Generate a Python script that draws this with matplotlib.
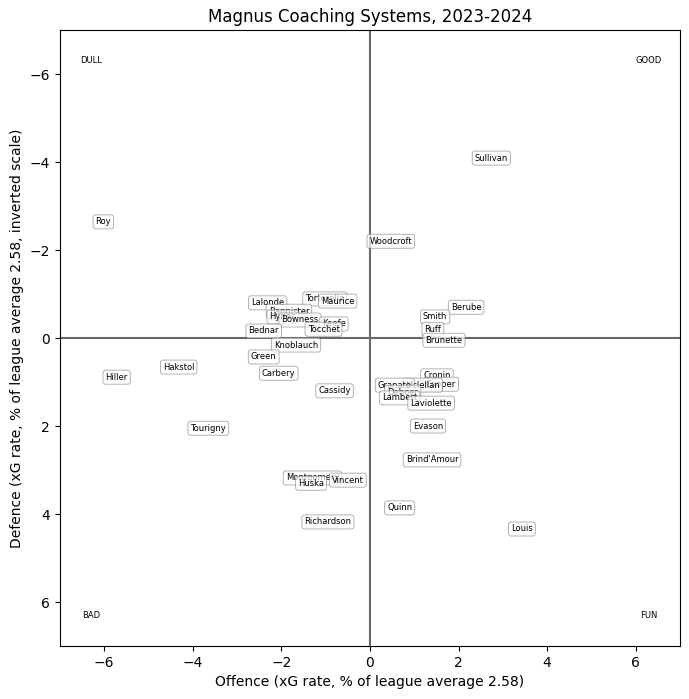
import matplotlib
matplotlib.use('Agg')
import matplotlib.pyplot as plt

# coaches and their xG rates (% of league average)
coaches = ['Sullivan', 'Roy', 'Woodcroft', 'Lalonde', 'Tortorella', 'Maurice',
           'Bannister', 'Hynes', 'Bowness', 'Keefe', 'Tocchet', 'Bednar',
           'Knoblauch', 'Green', 'Carbery', 'Cassidy', 'Hakstol', 'Hiller',
           'Tourigny', 'Berube', 'Smith', 'Ruff', 'Brunette', 'Cronin',
           'Cooper', 'Mclellan', 'Granato', 'Deboer', 'Lambert', 'Laviolette',
           'Evason', "Brind'Amour", 'Montgomery', 'Huska', 'Vincent',
           'Richardson', 'Quinn', 'Louis']
offence = [2.74, -6.02, 0.47, -2.31, -1.02, -0.73,
           -1.83, -1.97, -1.58, -0.82, -1.05, -2.40,
           -1.67, -2.40, -2.06, -0.80, -4.32, -5.72,
           -3.65, 2.17, 1.47, 1.42, 1.67, 1.51,
           1.60, 1.19, 0.56, 0.74, 0.67, 1.38,
           1.31, 1.40, -1.30, -1.33, -0.50,
           -0.95, 0.67, 3.43]
defence = [-4.09, -2.64, -2.20, -0.80, -0.89, -0.84,
           -0.61, -0.48, -0.41, -0.32, -0.20, -0.16,
           0.16, 0.43, 0.80, 1.20, 0.66, 0.89,
           2.05, -0.70, -0.48, -0.20, 0.05, 0.86,
           1.05, 1.07, 1.07, 1.23, 1.36, 1.48,
           2.00, 2.77, 3.18, 3.30, 3.23,
           4.18, 3.86, 4.34]

corner_text = ['DULL', 'GOOD', 'BAD', 'FUN']
corner_x = [-6.3, 6.3, -6.3, 6.3]
corner_y = [-6.3, -6.3, 6.3, 6.3]

fig = plt.figure(figsize=(6.89, 6.99), dpi=100)
ax = fig.add_axes([0.087, 0.0758, 0.9, 0.8812])

ax.axhline(0, color='dimgray', lw=1.5, zorder=1)
ax.axvline(0, color='dimgray', lw=1.5, zorder=1)

for name, x, y in zip(coaches, offence, defence):
    ax.text(x, y, name, fontsize=6, ha='center', va='center',
            bbox=dict(boxstyle='round,pad=0.3', fc='white', ec='gray', lw=0.6, alpha=0.7))

for t, x, y in zip(corner_text, corner_x, corner_y):
    ax.text(x, y, t, fontsize=6, ha='center', va='center')

ax.set_xlim(-7, 7)
ax.set_ylim(7, -7)
ax.set_xticks([-6, -4, -2, 0, 2, 4, 6])
ax.set_yticks([-6, -4, -2, 0, 2, 4, 6])
ax.set_xlabel('Offence (xG rate, % of league average 2.58)')
ax.set_ylabel('Defence (xG rate, % of league average 2.58, inverted scale)')
ax.set_title('Magnus Coaching Systems, 2023-2024')

fig.savefig('out.png', dpi=100)
